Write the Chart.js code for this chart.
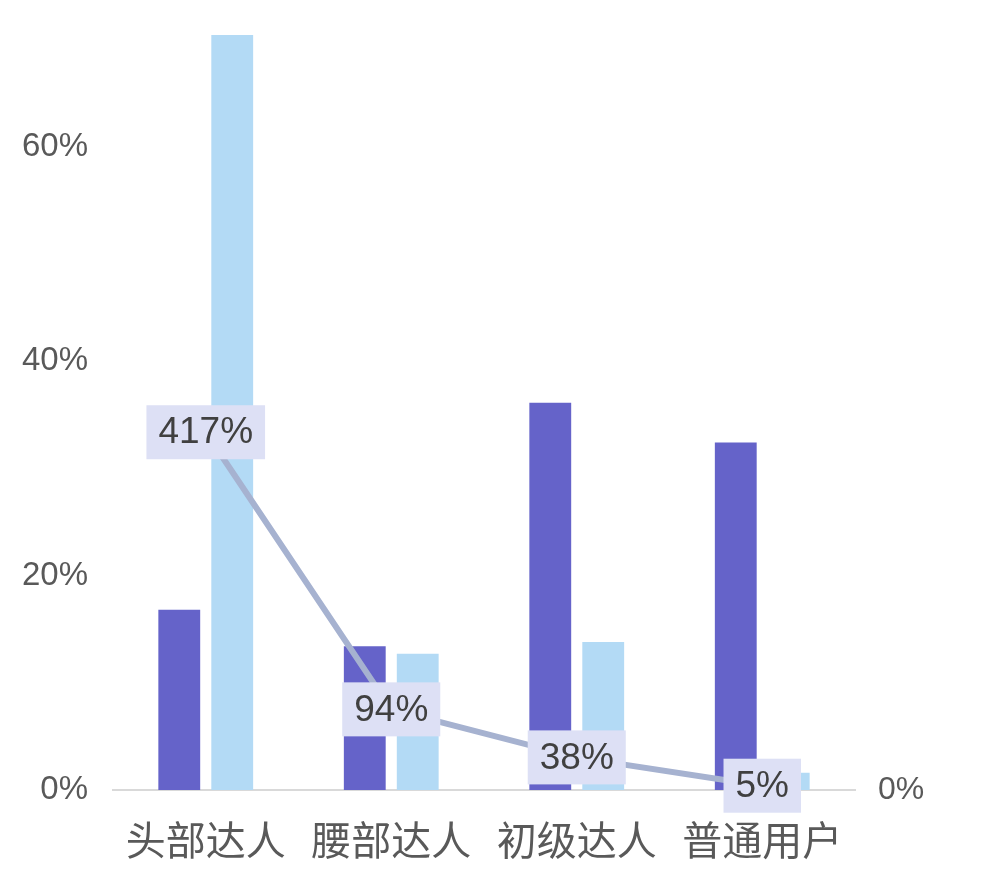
<!DOCTYPE html>
<html>
<head>
<meta charset="utf-8">
<script src="https://cdn.jsdelivr.net/npm/chart.js@4"></script>
<style>
  body { margin: 0; background: #fff; }
</style>
</head>
<body>
<canvas id="chart" width="997" height="891"></canvas>
<script>
// categories and series
const categories = ["头部达人", "腰部达人", "初级达人", "普通用户"];
const seriesA = [0.168, 0.134, 0.361, 0.324];     // dark bars
const seriesB = [0.704, 0.127, 0.138, 0.016];     // light bars
const ratio = [4.17, 0.94, 0.38, 0.05];           // line, right axis
const leftTicks = [0, 0.2, 0.4, 0.6];
const rightTicks = [0];

const pct = v => Math.round(v * 100) + "%";

// labels on the line points
const lineLabels = {
    id: "lineLabels",
    afterDatasetsDraw(chart) {
        const ctx = chart.ctx;
        const meta = chart.getDatasetMeta(2);
        ctx.save();
        ctx.font = "37px 'Liberation Sans', Arial, sans-serif";
        ctx.textAlign = "center";
        ctx.textBaseline = "middle";
        meta.data.forEach((pt, i) => {
            const txt = pct(ratio[i]);
            const w = ctx.measureText(txt).width + 24;
            const h = 54;
            ctx.fillStyle = "#dde0f5";
            ctx.fillRect(pt.x - w / 2, pt.y - h / 2, w, h);
            ctx.fillStyle = "#404040";
            ctx.fillText(txt, pt.x, pt.y + 1);
        });
        ctx.restore();
    }
};

new Chart(document.getElementById("chart"), {
    data: {
        labels: categories,
        datasets: [
            {
                type: "bar",
                data: seriesA,
                backgroundColor: "#6563c9",
                yAxisID: "y",
                order: 1,
                categoryPercentage: 0.571,
                barPercentage: 0.79
            },
            {
                type: "bar",
                data: seriesB,
                backgroundColor: "#b3daf5",
                yAxisID: "y",
                order: 1,
                categoryPercentage: 0.571,
                barPercentage: 0.79
            },
            {
                type: "line",
                data: ratio,
                borderColor: "#a6b2d0",
                borderWidth: 6,
                pointRadius: 0,
                yAxisID: "y1",
                order: 0
            }
        ]
    },
    options: {
        responsive: false,
        animation: false,
        layout: { padding: { top: 35 } },
        plugins: { legend: { display: false }, tooltip: { enabled: false } },
        scales: {
            x: {
                grid: { display: false, drawTicks: false },
                border: { display: true, color: "#d9d9d9", width: 2 },
                ticks: {
                    padding: 26,
                    color: "#595959",
                    font: { family: "'Noto Sans CJK SC'", size: 40 }
                },
                afterFit: s => { s.height = 101; }
            },
            y: {
                position: "left",
                min: 0,
                max: 0.704,
                grid: { display: false, drawTicks: false },
                border: { display: false },
                afterBuildTicks: s => { s.ticks = leftTicks.map(v => ({ value: v })); },
                ticks: {
                    padding: 25,
                    color: "#595959",
                    font: { family: "'Liberation Sans', Arial, sans-serif", size: 33 },
                    callback: v => pct(v)
                },
                afterFit: s => { s.width = 113; s.paddingTop = 0; }
            },
            y1: {
                position: "right",
                min: 0,
                max: 8.8,
                grid: { display: false, drawTicks: false },
                border: { display: false },
                afterBuildTicks: s => { s.ticks = rightTicks.map(v => ({ value: v })); },
                ticks: {
                    padding: 23,
                    color: "#595959",
                    font: { family: "'Liberation Sans', Arial, sans-serif", size: 32 },
                    callback: v => pct(v)
                },
                afterFit: s => { s.width = 142; s.paddingTop = 0; }
            }
        }
    },
    plugins: [lineLabels]
});
</script>
</body>
</html>
